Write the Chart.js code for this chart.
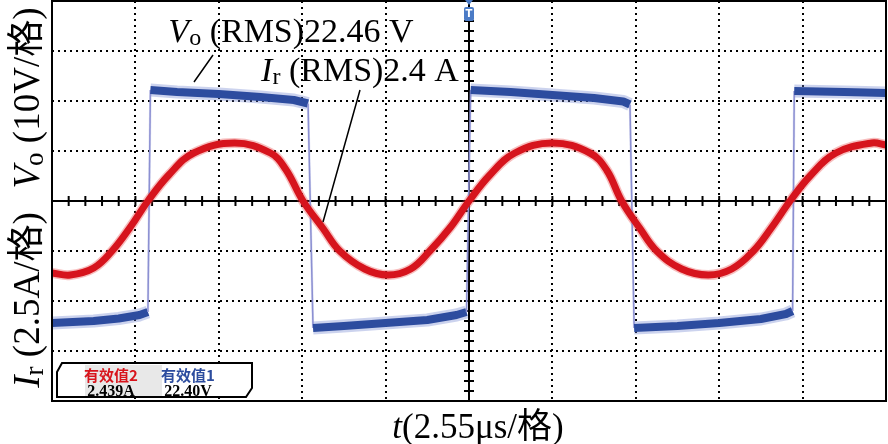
<!DOCTYPE html>
<html>
<head>
<meta charset="utf-8">
<script src="https://cdn.jsdelivr.net/npm/chart.js@4.4.1/dist/chart.umd.min.js"></script>
<style>
  html,body{margin:0;padding:0;background:#fff;}
  #wrap{width:888px;height:444px;}
</style>
</head>
<body>
<div id="wrap"><canvas id="c" width="888" height="444"></canvas></div>
<script>
// ── DATA (x and y in scope divisions) ─────────────────
// Ir: resonant current, 2.5 A/div
const redX = [-5.0, -4.78, -4.5, -4.28, -4.06, -3.85, -3.6, -3.3, -2.81, -2.38, -2.2, -1.99,
              -1.75, -1.55, -1.25, -0.97, -0.7, -0.47, -0.22, 0.0, 0.25, 0.55, 1.0, 1.45, 1.65, 1.83,
              2.05, 2.25, 2.55, 2.87, 3.15, 3.41, 3.62, 3.85, 4.1, 4.4, 4.83, 5.0];
const redY = [-1.44, -1.48, -1.34, -1.0, -0.52, 0.0, 0.52, 0.96, 1.16, 0.96, 0.64, 0.0,
              -0.55, -1.0, -1.36, -1.48, -1.36, -1.0, -0.52, 0.0, 0.52, 0.96, 1.16, 0.96, 0.62, 0.0,
              -0.55, -1.0, -1.36, -1.48, -1.36, -1.0, -0.55, 0.0, 0.52, 0.96, 1.16, 1.12];

// Vo: output voltage, 10 V/div
const blueX = [-5.0, -4.5, -4.2, -3.95, -3.85, -3.82, -3.5, -3.0, -2.5, -2.1, -1.93, -1.87, -1.5, -1.0, -0.5, -0.15, -0.03,
               0.02, 0.5, 1.0, 1.5, 1.85, 1.93, 1.98, 2.5, 3.0, 3.5, 3.8, 3.88, 3.9, 4.5, 5.0];
const blueY = [-2.44, -2.40, -2.35, -2.28, -2.22, 2.22, 2.18, 2.14, 2.08, 2.02, 1.95, -2.54, -2.50, -2.44, -2.38, -2.28, -2.22,
               2.22, 2.18, 2.12, 2.06, 1.99, 1.93, -2.54, -2.50, -2.44, -2.36, -2.26, -2.2, 2.2, 2.18, 2.16];

const X_DIVS = [-5, 5];
const Y_DIVS = [-4, 4];

const meas = [
  {name:'有效值2', val:'2.439A', color:'#d8141c'},
  {name:'有效值1', val:'22.40V', color:'#2c4c9e'},
];

const SERIF = '"Liberation Serif", "Noto Sans CJK SC", serif';

const pts = (xs, ys) => xs.map((x, i) => ({x, y: ys[i]}));
const isEdge = c => Math.abs(c.p1.parsed.y - c.p0.parsed.y) > 2;

// ── TEXT HELPER ───────────────────────────────────────
function drawRuns(ctx, parts, x, y, size) {
  const font = p => (p.it ? 'italic ' : '') + Math.round(size * (p.sub ? 0.72 : 1)) + 'px ' + SERIF;
  let w = 0;
  parts.forEach(p => { ctx.font = font(p); p.w = ctx.measureText(p.t).width; w += p.w; });
  let cx = x - w / 2;
  ctx.textBaseline = 'alphabetic';
  ctx.textAlign = 'left';
  parts.forEach(p => {
    ctx.font = font(p);
    ctx.fillText(p.t, cx, y + (p.sub ? size * 0.1 : 0));
    cx += p.w;
  });
}

const scopeDeco = {
  id: 'scopeDeco',
  beforeDatasetsDraw(chart) {
    const {ctx, chartArea: a, scales: {x, y}} = chart;
    const x0 = x.getPixelForValue(0), y0 = y.getPixelForValue(0);
    ctx.save();
    ctx.strokeStyle = '#000';
    ctx.lineWidth = 2;
    ctx.beginPath();
    ctx.moveTo(a.left, y0); ctx.lineTo(a.right, y0);
    ctx.moveTo(x0, a.top); ctx.lineTo(x0, a.bottom);
    // minor ticks, 5 per division
    for (let v = X_DIVS[0]; v <= X_DIVS[1] + 1e-6; v += 0.2) {
      const px = x.getPixelForValue(v);
      ctx.moveTo(px, y0 - 5); ctx.lineTo(px, y0 + 5);
    }
    for (let v = Y_DIVS[0]; v <= Y_DIVS[1] + 1e-6; v += 0.2) {
      const py = y.getPixelForValue(v);
      ctx.moveTo(x0 - 5, py); ctx.lineTo(x0 + 5, py);
    }
    ctx.stroke();
    ctx.restore();
  },
  afterDraw(chart) {
    const {ctx, chartArea: a, scales: {x}} = chart;
    const x0 = x.getPixelForValue(0);
    ctx.save();
    // frame
    ctx.strokeStyle = '#000';
    ctx.lineWidth = 2;
    ctx.strokeRect(a.left, a.top, a.right - a.left, a.bottom - a.top);

    // trigger marker
    ctx.fillStyle = '#4b7bc6';
    ctx.beginPath();
    ctx.moveTo(x0 - 4, 0); ctx.lineTo(x0 + 4, 0); ctx.lineTo(x0, 5); ctx.closePath(); ctx.fill();
    ctx.beginPath();
    ctx.roundRect(x0 - 5, 7, 10, 14, 2); ctx.fill();
    ctx.fillStyle = '#fff';
    ctx.font = 'bold 10px "DejaVu Sans"';
    ctx.textAlign = 'center'; ctx.textBaseline = 'middle';
    ctx.fillText('T', x0, 14.5);

    ctx.fillStyle = '#000';
    // y titles (rotated)
    ctx.save();
    ctx.translate(39, 0);
    ctx.rotate(-Math.PI / 2);
    drawRuns(ctx, [{t:'V', it:true}, {t:'o', sub:true}, {t:' (10V/格)'}], -98, 0, 37);
    drawRuns(ctx, [{t:'I', it:true}, {t:'r', sub:true}, {t:' (2.5A/格)'}], -300, 0, 37);
    ctx.restore();

    // x title
    drawRuns(ctx, [{t:'t', it:true}, {t:'(2.55μs/格)'}], 478, 438, 35);

    // annotations
    drawRuns(ctx, [{t:'V', it:true}, {t:'o', sub:true}, {t:' (RMS)22.46 V'}], 291, 42, 34);
    drawRuns(ctx, [{t:'I', it:true}, {t:'r', sub:true}, {t:' (RMS)2.4 A'}], 360, 81, 34);
    ctx.strokeStyle = '#000';
    ctx.lineWidth = 1.5;
    ctx.beginPath();
    ctx.moveTo(213, 55); ctx.lineTo(194, 82);
    ctx.moveTo(360, 90); ctx.lineTo(323, 222);
    ctx.stroke();

    // measurement box
    ctx.fillStyle = '#fff';
    ctx.lineWidth = 2;
    ctx.beginPath();
    ctx.moveTo(62, 363); ctx.lineTo(252, 363); ctx.lineTo(252, 388);
    ctx.lineTo(246, 397); ctx.lineTo(57, 397); ctx.lineTo(57, 372); ctx.closePath();
    ctx.fill(); ctx.stroke();
    ctx.fillStyle = '#e8e8e8';
    ctx.fillRect(85, 365, 77, 31);
    ctx.textAlign = 'center'; ctx.textBaseline = 'alphabetic';
    meas.forEach((m, i) => {
      const cx = 111 + i * 77;
      ctx.fillStyle = m.color;
      ctx.font = 'bold 15px "Noto Sans CJK SC"';
      ctx.fillText(m.name, cx, 381);
      ctx.fillStyle = '#000';
      ctx.font = 'bold 16px "Liberation Serif"';
      ctx.fillText(m.val, cx, 396);
    });
    ctx.restore();
  }
};

const axisOpts = (r) => ({
  type: 'linear', min: r[0], max: r[1],
  ticks: {display: false, stepSize: 1},
  grid: {color: '#000', lineWidth: 2, drawTicks: false, tickLength: 0},
  border: {display: false, dash: [2, 4]},
});

new Chart(document.getElementById('c'), {
  type: 'line',
  data: {datasets: [
    {data: pts(redX, redY), order: 0, borderColor: '#d6141d', borderWidth: 7, tension: 0.4},
    {data: pts(blueX, blueY), order: 1, tension: 0,
     segment: {borderWidth: c => isEdge(c) ? 1.5 : 8, borderColor: c => isEdge(c) ? '#8c90d2' : '#2d4c9f'}},
    {data: pts(redX, redY), order: 2, borderColor: 'rgba(232,70,70,0.35)', borderWidth: 10, tension: 0.4},
    {data: pts(blueX, blueY), order: 3, tension: 0,
     segment: {borderWidth: c => isEdge(c) ? 2.5 : 13, borderColor: c => isEdge(c) ? 'rgba(150,155,215,0.3)' : 'rgba(110,130,205,0.35)'}},
  ]},
  options: {
    responsive: false, animation: false,
    layout: {padding: {left: 52, top: 1, right: 2, bottom: 43}},
    elements: {point: {radius: 0}, line: {borderJoinStyle: 'round', borderCapStyle: 'butt'}},
    plugins: {legend: {display: false}, tooltip: {enabled: false}},
    scales: {x: axisOpts(X_DIVS), y: axisOpts(Y_DIVS)},
  },
  plugins: [scopeDeco],
});
</script>
</body>
</html>
